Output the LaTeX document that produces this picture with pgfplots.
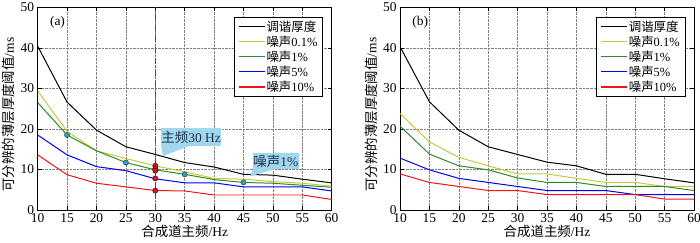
\documentclass[border=0pt]{standalone}
\usepackage{fontspec}
\setmainfont{Liberation Serif}
\newfontfamily\cjk{Noto Sans CJK SC}
\usepackage{pgfplots}
\pgfplotsset{compat=1.18}
\definecolor{lineyellow}{RGB}{200,200,60}
\definecolor{linegreen}{RGB}{40,140,40}
\definecolor{lineblue}{RGB}{0,0,240}
\definecolor{linered}{RGB}{240,20,20}
\definecolor{callout}{RGB}{160,214,238}
\definecolor{callouttext}{RGB}{30,50,80}
\definecolor{dotcyan}{RGB}{40,160,210}
\definecolor{dotred}{RGB}{210,20,40}
\pgfplotsset{
  common/.style={
    anchor=south west, scale only axis, width=294bp, height=202.7bp,
    xmin=10, xmax=60, ymin=0, ymax=50,
    xtick={10,15,...,60}, ytick={0,10,...,50},
    grid=major, major grid style={densely dotted, black!50, line width=0.5pt},
    tick align=inside, major tick length=4bp,
    tick style={black, line width=0.5pt},
    axis line style={line width=0.6pt},
    /pgf/number format/assume math mode=true,
    tick label style={font=\fontsize{13.5}{14}\selectfont},
    label style={font=\fontsize{13.5}{14}\selectfont},
    xlabel={{\cjk 合成道主频}/Hz},
    ylabel={{\cjk 可分辨的薄层厚度阈值}/ms},
    xlabel style={at={(axis description cs:0.5,-0.108)}, anchor=center},
    ylabel style={at={(axis description cs:-0.098,0.47)}, anchor=center},
    legend style={at={(0.97,0.953)}, anchor=north east,
      font=\fontsize{12.5}{13}\selectfont, line width=0.6pt,
      inner xsep=4bp, inner ysep=2.5bp, row sep=1.2bp,
      nodes={inner sep=1.2bp, text depth=0.1em}},
    legend cell align=left,
    legend image code/.code={\draw[#1] (0bp,0bp) -- (26bp,0bp);},
    every axis plot/.append style={line width=1pt},
  }
}
\begin{document}
\begin{tikzpicture}
\path[use as bounding box] (0bp,0bp) rectangle (700bp,243bp);
% ---------- (a) ----------
\begin{axis}[common, at={(37.7bp,33bp)}]
\addlegendimage{draw=black, line width=1.2pt}
\addlegendentry{{\cjk 调谐厚度}}
\addlegendimage{draw=lineyellow, line width=1.2pt}
\addlegendentry{{\cjk 噪声}0.1\%}
\addlegendimage{draw=linegreen, line width=1.2pt}
\addlegendentry{{\cjk 噪声}1\%}
\addlegendimage{draw=lineblue, line width=1.2pt}
\addlegendentry{{\cjk 噪声}5\%}
\addlegendimage{draw=linered, line width=1.2pt}
\addlegendentry{{\cjk 噪声}10\%}
\addplot[forget plot, color=black, no marks] coordinates {(10,40.4)(15,26.6)(20,19.7)(25,15.6)(30,13.7)(35,11.7)(40,10.6)(45,8.8)(50,8.6)(55,7.6)(60,6.7)};
\addplot[forget plot, color=lineyellow, no marks] coordinates {(10,29.4)(15,19.4)(20,14.6)(25,12.7)(30,10.9)(35,9.4)(40,7.8)(45,7.6)(50,7.0)(55,6.6)(60,5.9)};
\addplot[forget plot, color=linegreen, no marks] coordinates {(10,26.5)(15,18.5)(20,14.6)(25,11.7)(30,9.9)(35,8.8)(40,7.5)(45,6.8)(50,6.6)(55,6.1)(60,5.6)};
\addplot[forget plot, color=lineblue, no marks] coordinates {(10,18.5)(15,13.6)(20,10.7)(25,9.7)(30,7.7)(35,6.7)(40,6.7)(45,5.7)(50,5.7)(55,5.7)(60,4.7)};
\addplot[forget plot, color=linered, no marks] coordinates {(10,13.6)(15,8.7)(20,6.6)(25,5.7)(30,4.8)(35,4.7)(40,3.7)(45,3.7)(50,3.7)(55,3.7)(60,2.6)};
\addplot[forget plot, dotred, line width=0.7pt, dash pattern=on 6bp off 2bp on 1.2bp off 2bp] coordinates {(30,0)(30,50)};
\addplot[forget plot, only marks, mark=*, mark size=2.6bp, mark options={fill=dotcyan, draw=black!75, line width=0.5pt}] coordinates {(15,18.5)(25,11.7)(35,8.8)(45,6.8)};
\addplot[forget plot, only marks, mark=*, mark size=2.6bp, mark options={fill=dotred, draw=black!60!red, line width=0.5pt}] coordinates {(30,10.9)(30,10.2)(30,9.7)(30,7.8)(30,4.8)};
% callouts
\fill[callout] (axis cs:31.0,15.9) -- (axis cs:31.3,13.3) -- (axis cs:35.9,15.9) -- cycle;
\node[fill=callout, inner sep=0pt, minimum width=60bp, minimum height=17.4bp, text=callouttext, font=\fontsize{13.5}{14}\selectfont] at (axis cs:36.1,18.0) {{\cjk 主频}30 Hz};
\fill[callout] (axis cs:46.6,10.1) -- (axis cs:46.1,8.3) -- (axis cs:50.4,10.1) -- cycle;
\node[fill=callout, inner sep=0pt, minimum width=46bp, minimum height=16bp, text=callouttext, font=\fontsize{13.5}{14}\selectfont] at (axis cs:50.5,12.1) {{\cjk 噪声}1\%};
\node[anchor=north west, font=\fontsize{13.5}{14}\selectfont] at (axis description cs:0.03,0.975) {(a)};
\end{axis}
% ---------- (b) ----------
\begin{axis}[common, at={(400bp,33bp)}]
\addlegendimage{draw=black, line width=1.2pt}
\addlegendentry{{\cjk 调谐厚度}}
\addlegendimage{draw=lineyellow, line width=1.2pt}
\addlegendentry{{\cjk 噪声}0.1\%}
\addlegendimage{draw=linegreen, line width=1.2pt}
\addlegendentry{{\cjk 噪声}1\%}
\addlegendimage{draw=lineblue, line width=1.2pt}
\addlegendentry{{\cjk 噪声}5\%}
\addlegendimage{draw=linered, line width=1.2pt}
\addlegendentry{{\cjk 噪声}10\%}
\addplot[forget plot, color=black, no marks] coordinates {(10,40.3)(15,26.7)(20,19.7)(25,15.6)(30,13.7)(35,11.8)(40,10.9)(45,8.8)(50,8.8)(55,7.7)(60,6.7)};
\addplot[forget plot, color=lineyellow, no marks] coordinates {(10,23.8)(15,16.8)(20,13.0)(25,10.9)(30,8.9)(35,8.9)(40,7.8)(45,6.8)(50,6.8)(55,5.8)(60,5.8)};
\addplot[forget plot, color=linegreen, no marks] coordinates {(10,20.7)(15,13.8)(20,10.9)(25,9.9)(30,7.9)(35,6.8)(40,6.8)(45,5.8)(50,5.8)(55,5.8)(60,4.8)};
\addplot[forget plot, color=lineblue, no marks] coordinates {(10,12.8)(15,9.9)(20,7.8)(25,6.8)(30,5.8)(35,4.8)(40,4.8)(45,4.8)(50,3.8)(55,3.8)(60,3.8)};
\addplot[forget plot, color=linered, no marks] coordinates {(10,8.9)(15,6.8)(20,5.8)(25,4.8)(30,4.8)(35,3.8)(40,3.8)(45,3.8)(50,3.8)(55,2.7)(60,2.7)};
\node[anchor=north west, font=\fontsize{13.5}{14}\selectfont] at (axis description cs:0.03,0.975) {(b)};
\end{axis}
\end{tikzpicture}
\end{document}
